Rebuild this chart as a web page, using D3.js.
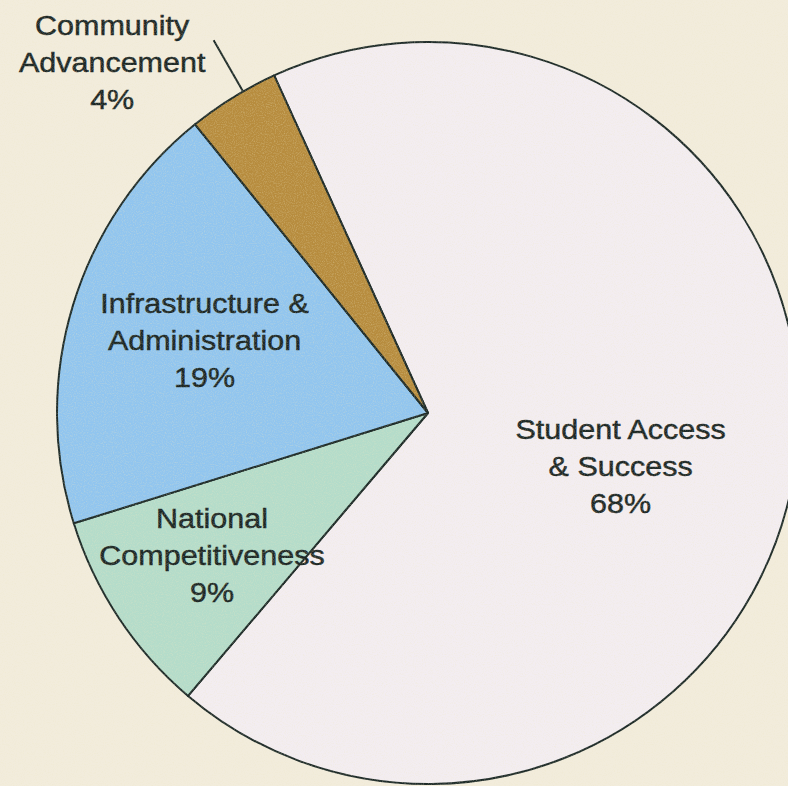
<!DOCTYPE html>
<html>
  <head>
    <meta charset="UTF-8" />
    <style>
      body {
        margin: 0;
        background-color: #f2ecdc;
      }
      svg {
        display: block;
      }
      .label {
        font-family: "Liberation Sans", Arial, sans-serif;
        font-size: 27px;
        fill: #1b2624;
        stroke: #1b2624;
        stroke-width: 0.45px;
      }
    </style>
  </head>
  <body>
    <svg></svg>
    <script src="https://d3js.org/d3.v7.min.js"></script>
    <script>
      // slices, clockwise from the top-right edge
      const categories = [
        "Student Access & Success",
        "National Competitiveness",
        "Infrastructure & Administration",
        "Community Advancement",
      ];
      const shares = [68, 9, 19, 4];
      const labelLines = [
        ["Student Access", "& Success", "68%"],
        ["National", "Competitiveness", "9%"],
        ["Infrastructure &", "Administration", "19%"],
        ["Community", "Advancement", "4%"],
      ];
      const colors = ["#f3edf1", "#b4dcca", "#91c5ef", "#b78c3e"];

      const width = 788;
      const height = 786;
      const cx = 428;
      const cy = 413;
      const radius = 371;

      const svg = d3
        .select("svg")
        .attr("width", width)
        .attr("height", height);

      // paper grain
      const defs = svg.append("defs");
      const grain = defs.append("filter").attr("id", "grain");
      grain
        .append("feTurbulence")
        .attr("type", "fractalNoise")
        .attr("baseFrequency", 0.9)
        .attr("numOctaves", 2)
        .attr("seed", 3);
      grain
        .append("feColorMatrix")
        .attr("values", "0 0 0 0 0.85  0 0 0 0 0.8  0 0 0 0 0.55  0 0 0 -2.2 1.25");

      const data = categories.map((c, i) => ({
        name: c,
        value: shares[i],
        lines: labelLines[i],
        color: colors[i],
      }));

      const pie = d3
        .pie()
        .sort(null)
        .value((d) => d.value)
        .startAngle((-24.5 * Math.PI) / 180)
        .endAngle((335.5 * Math.PI) / 180);

      const arc = d3.arc().innerRadius(0).outerRadius(radius);

      const chart = svg
        .append("g")
        .attr("transform", `translate(${cx}, ${cy})`);

      const arcs = pie(data);

      chart
        .selectAll("path.slice")
        .data(arcs)
        .enter()
        .append("path")
        .attr("class", "slice")
        .attr("d", arc)
        .attr("fill", (d) => d.data.color)
        .attr("stroke", "#1e2b29")
        .attr("stroke-width", 2)
        .attr("stroke-linejoin", "round");

      svg
        .append("rect")
        .attr("width", width)
        .attr("height", height)
        .attr("filter", "url(#grain)")
        .attr("opacity", 0.3)
        .style("pointer-events", "none");

      // label placement: radius and angle tweak per slice
      const labelRadius = [200, 259, 235, 472];
      const labelAngleShift = [7.7, 0, 1.1, -10.3];

      const labelPos = (d, i) => {
        const mid =
          (d.startAngle + d.endAngle) / 2 + (labelAngleShift[i] * Math.PI) / 180;
        const r = labelRadius[i];
        return [Math.sin(mid) * r, -Math.cos(mid) * r];
      };

      const lineGap = 37;

      const labels = chart
        .selectAll("g.lab")
        .data(arcs)
        .enter()
        .append("g")
        .attr("class", "lab")
        .attr("transform", (d, i) => {
          const p = labelPos(d, i);
          return `translate(${p[0]}, ${p[1]}) scale(1.13, 1)`;
        });

      labels
        .selectAll("text")
        .data((d) => d.data.lines)
        .enter()
        .append("text")
        .attr("class", "label")
        .attr("text-anchor", "middle")
        .attr("dy", "0.35em")
        .attr("y", (t, j) => (j - 1) * lineGap)
        .text((t) => t);

      // leader line for the small slice
      const small = arcs[3];
      const smallMid = (small.startAngle + small.endAngle) / 2;
      const leader = [radius, radius + 59];
      const leadAngle = smallMid + (1.8 * Math.PI) / 180;
      chart
        .append("line")
        .attr("x1", Math.sin(leadAngle) * leader[0])
        .attr("y1", -Math.cos(leadAngle) * leader[0])
        .attr("x2", Math.sin(leadAngle) * leader[1])
        .attr("y2", -Math.cos(leadAngle) * leader[1])
        .attr("stroke", "#1e2b29")
        .attr("stroke-width", 2);
    </script>
  </body>
</html>
